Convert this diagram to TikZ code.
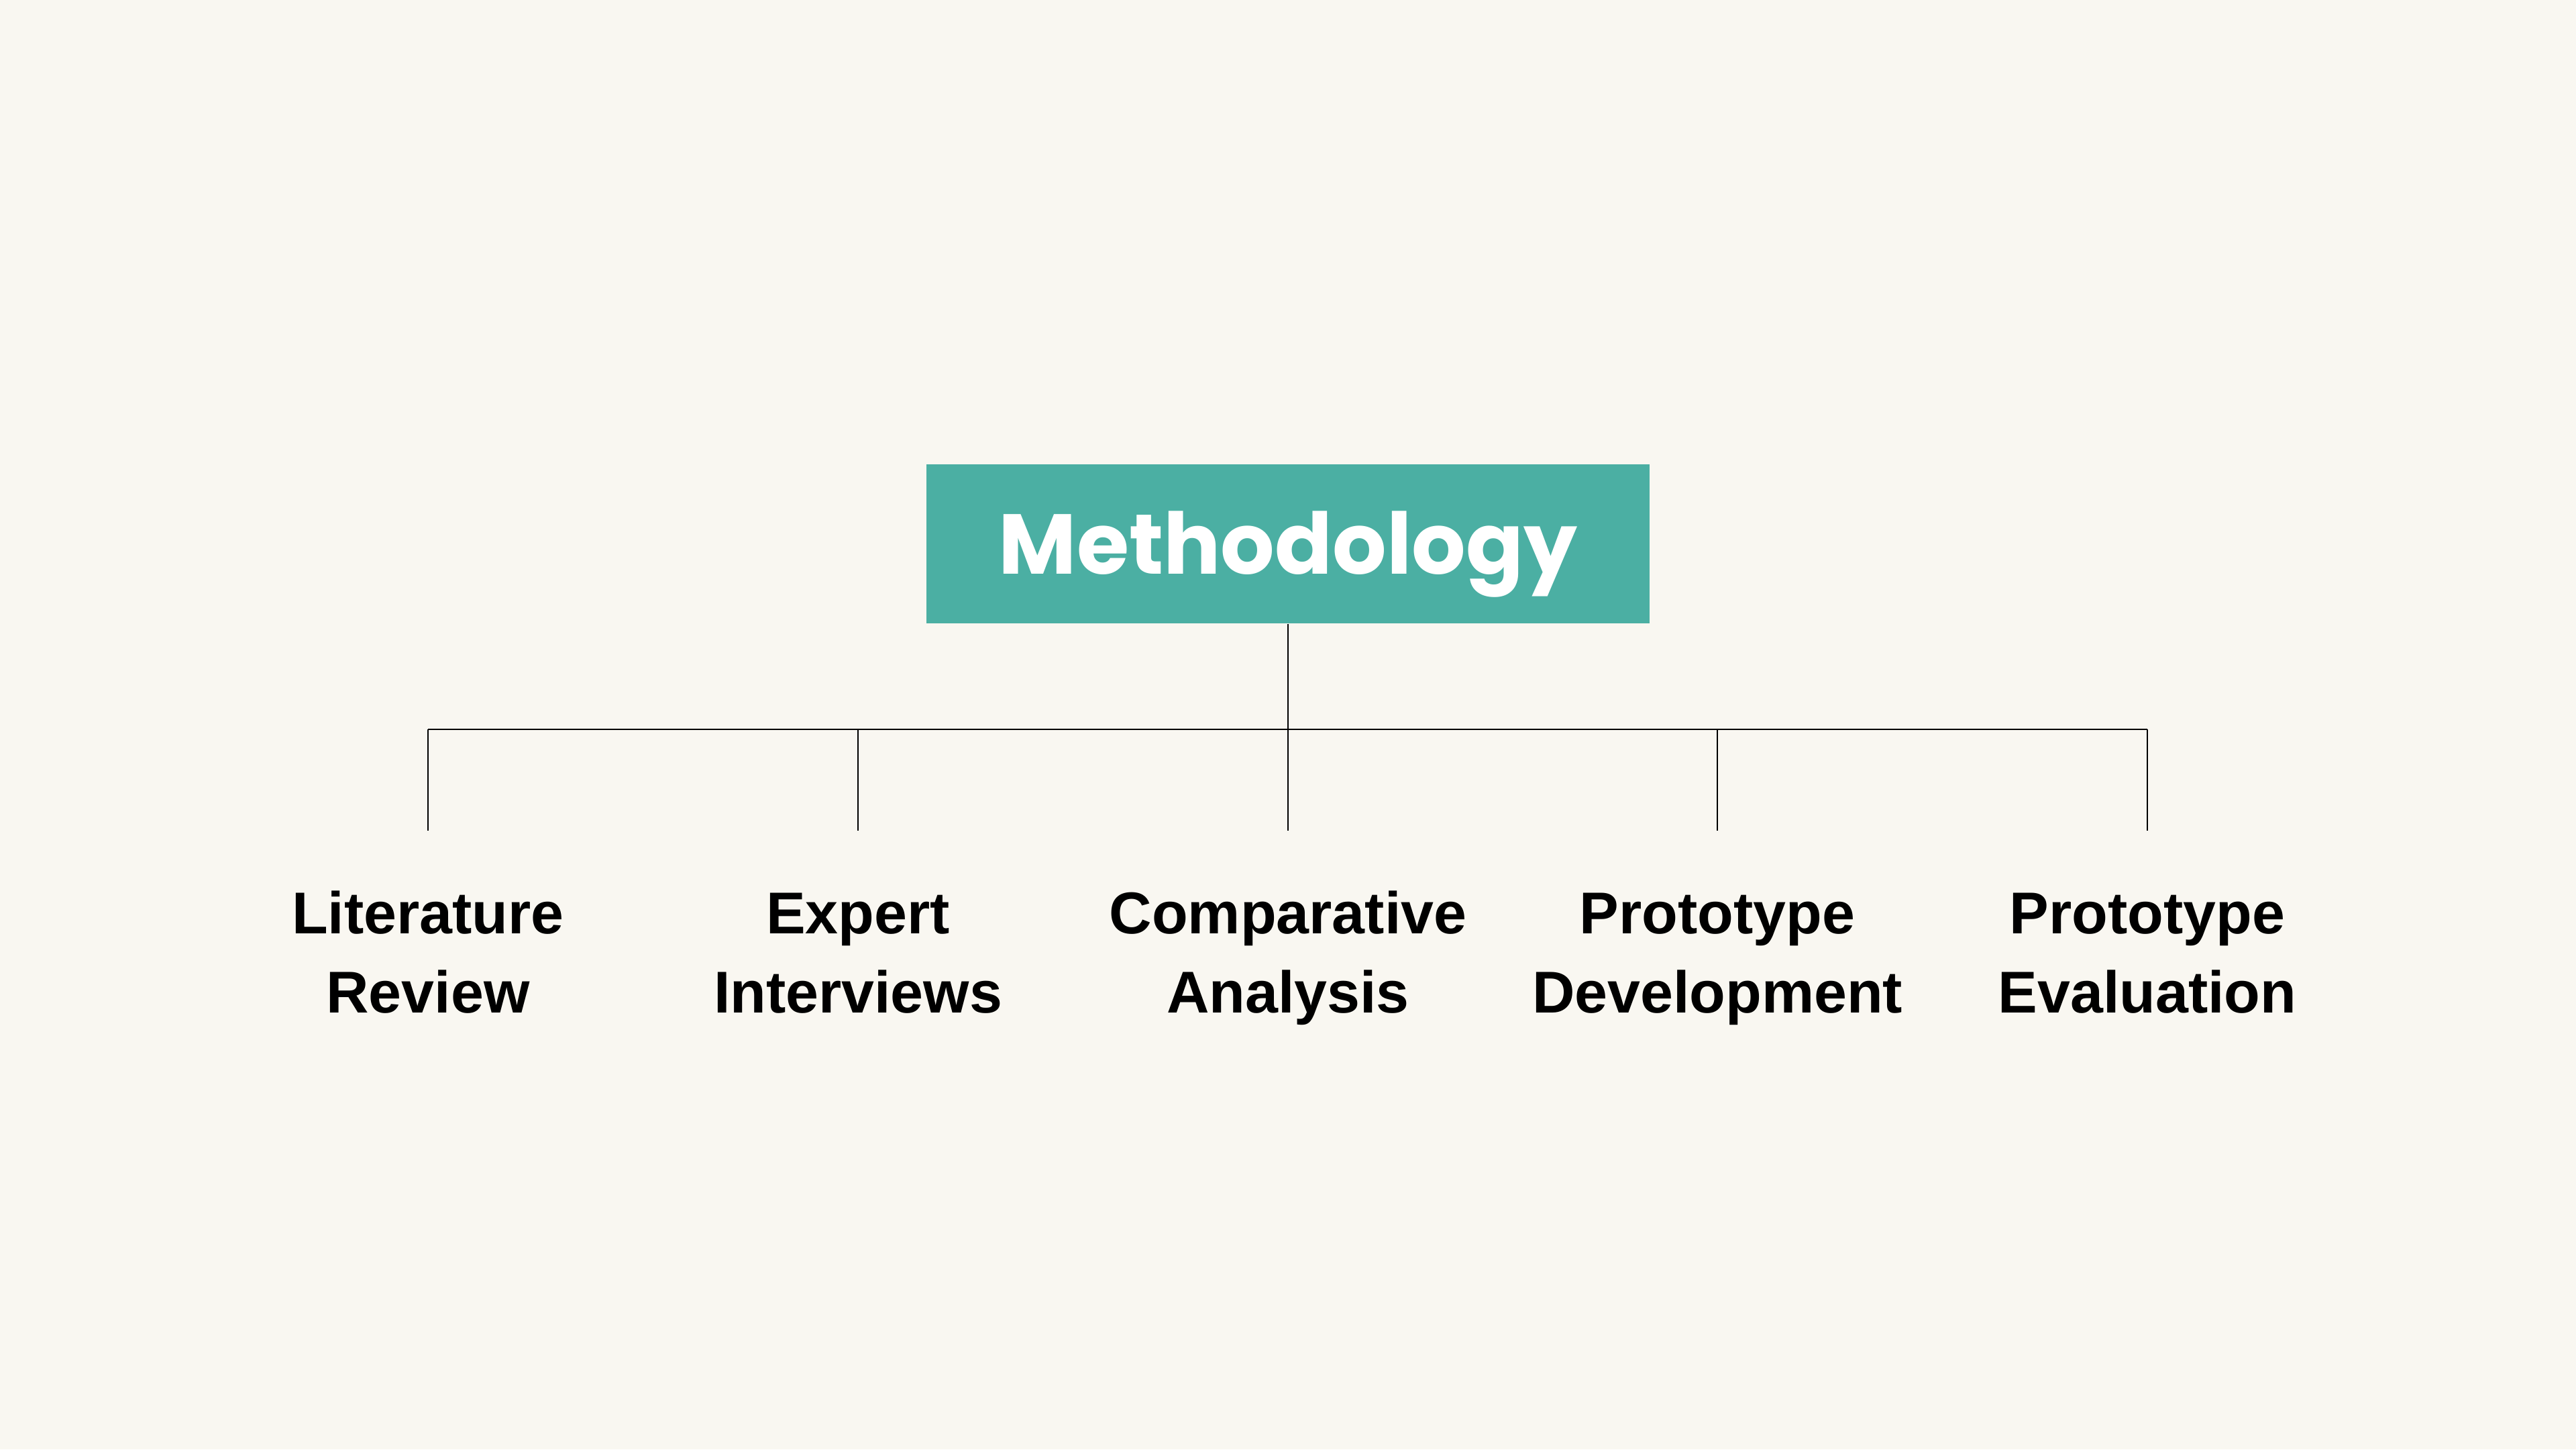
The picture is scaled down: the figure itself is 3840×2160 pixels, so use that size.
\documentclass[tikz,border=0pt]{standalone}
\usepackage{fontspec}
\setmainfont{Liberation Sans}
\newfontfamily\titlefont{Poppins}[UprightFont=* Bold]
\definecolor{bgcol}{HTML}{F9F7F1}
\definecolor{teal}{HTML}{4BAFA3}
\begin{document}
\begin{tikzpicture}[x=0.01cm,y=-0.01cm,
  rootbox/.style={rectangle, fill=teal, inner sep=0pt, minimum width=10.78cm, minimum height=2.37cm,
    text height=0.89cm, text depth=0cm, text=white, font=\titlefont\fontsize{36pt}{40pt}\selectfont},
  leaf/.style={align=center, anchor=base, inner sep=0pt,
    font=\bfseries\fontsize{25pt}{33.3pt}\selectfont},
  link/.style={draw=black, line width=0.7pt}]
\fill[bgcol] (0,0) rectangle (3840,2160);
\useasboundingbox (0,0) rectangle (3840,2160);
\node[rootbox] (root) at (1920,810.5) {Methodology};
\coordinate (j) at (1920,1087);
\coordinate (b1) at (638,1087);
\coordinate (b2) at (1279,1087);
\coordinate (b4) at (2560,1087);
\coordinate (b5) at (3201,1087);
\coordinate (t1) at (638,1238);
\coordinate (t2) at (1279,1238);
\coordinate (t3) at (1920,1238);
\coordinate (t4) at (2560,1238);
\coordinate (t5) at (3201,1238);
\node[leaf] (l1) at (638,1509) {Literature\\Review};
\node[leaf] (l2) at (1279,1509) {Expert\\Interviews};
\node[leaf] (l3) at (1920,1509) {Comparative\\Analysis};
\node[leaf] (l4) at (2560,1509) {Prototype\\Development};
\node[leaf] (l5) at (3201,1509) {Prototype\\Evaluation};
\draw[link] (root.south) -- (j);
\draw[link] (b1) -- (b5);
\draw[link] (b1) -- (t1);
\draw[link] (b2) -- (t2);
\draw[link] (j) -- (t3);
\draw[link] (b4) -- (t4);
\draw[link] (b5) -- (t5);
\end{tikzpicture}
\end{document}
